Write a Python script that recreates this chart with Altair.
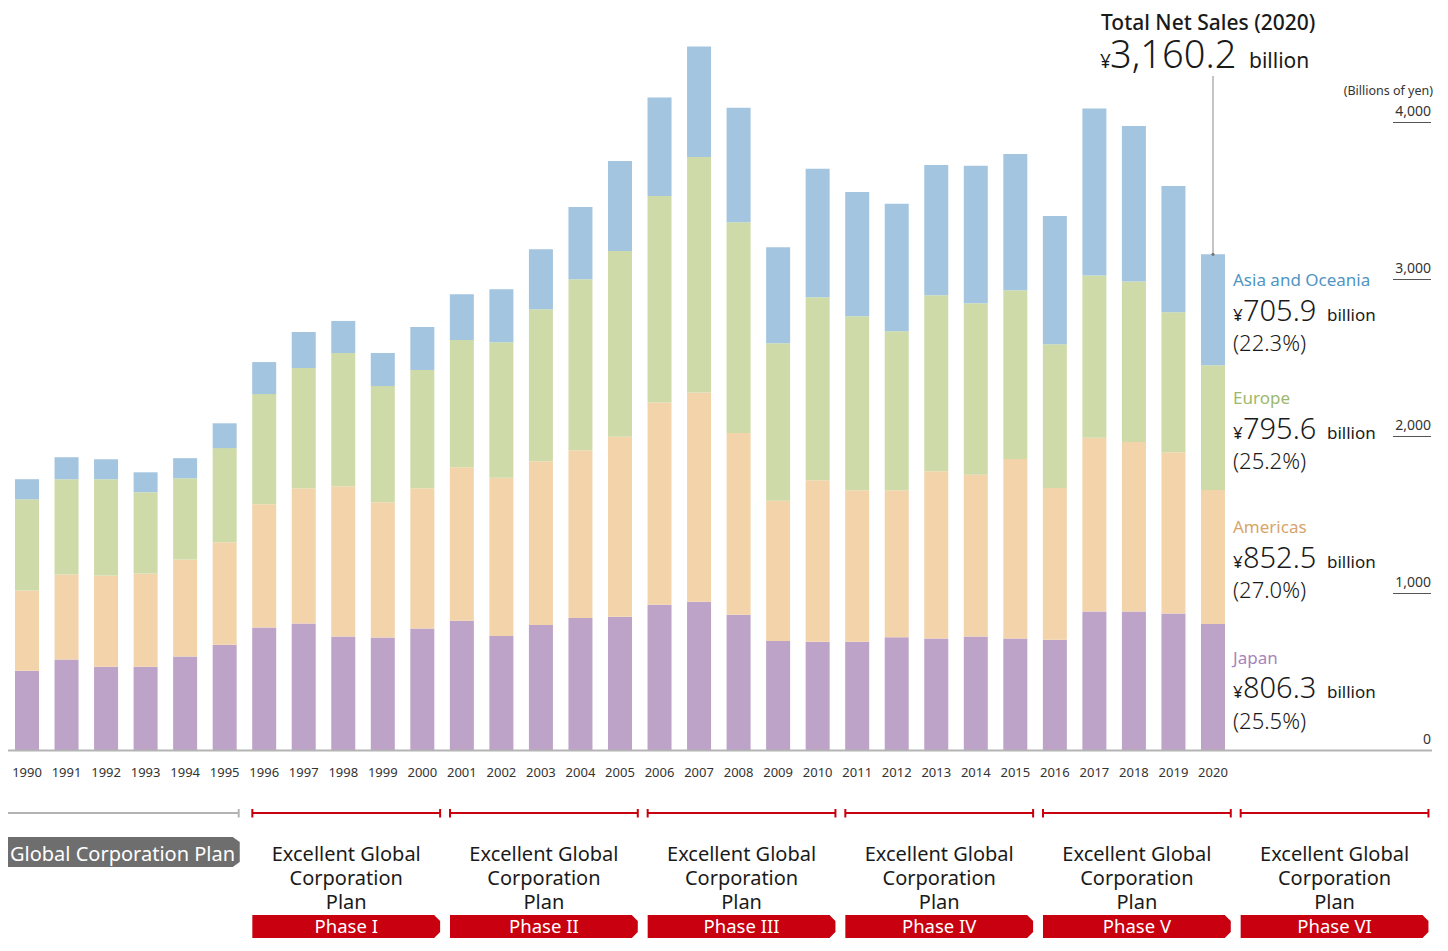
import altair as alt
import pandas as pd

FONT = "Noto Sans"

# ---------------- data ----------------
years = list(range(1990, 2021))
regions = ["Japan", "Americas", "Europe", "Asia and Oceania"]
japan = [508, 579, 534, 534, 598, 674, 783, 809, 726, 719, 777, 826, 730, 800, 844, 852,
         928, 947, 865, 698, 693, 693, 721, 714, 726, 714, 705, 886, 886, 872, 806.3]
americas = [511, 542, 581, 594, 619, 652, 785, 861, 957, 862, 893, 978, 1008, 1043, 1068, 1147,
            1289, 1333, 1157, 893, 1028, 964, 936, 1064, 1031, 1142, 967, 1106, 1079, 1028, 852.5]
europe = [581, 607, 613, 517, 517, 600, 702, 766, 849, 740, 753, 810, 862, 968, 1090, 1182,
          1315, 1501, 1343, 1003, 1166, 1109, 1013, 1122, 1092, 1076, 915, 1034, 1023, 891, 795.6]
asia = [128, 140, 127, 127, 128, 158, 204, 230, 204, 211, 275, 292, 338, 382, 460, 574,
        627, 703, 729, 612, 818, 792, 812, 829, 875, 868, 818, 1063, 990, 805, 705.9]
total_2020 = 3160.2

tick_values = [0, 1000, 2000, 3000, 4000]
tick_labels = ["0", "1,000", "2,000", "3,000", "4,000"]

plan_names = ["Global Corporation Plan", "Phase I", "Phase II", "Phase III",
              "Phase IV", "Phase V", "Phase VI"]
plan_start = [1988, 1996, 2001, 2006, 2011, 2016, 2021]
plan_end = [1995, 2000, 2005, 2010, 2015, 2020, 2025]
plan_label = "Excellent Global\nCorporation\nPlan"

# ---------------- style / layout ----------------
bar_colors = ["#BDA3C7", "#F3D4AA", "#CEDBA8", "#A3C5E0"]
label_colors = ["#A883BC", "#D7A56C", "#9DB86C", "#4F95C4"]
RED = "#C8000F"
GREY_TAG = "#6E6E6E"
GREY_LINE = "#B4B4B4"
TXT = "#1A1A1A"

W, H = 1432, 935
X_FIRST = 19.0      # plot x of the first bar centre
STEP = 39.533       # px per year
Y_ZERO = 742.5      # plot y of value 0
PX_UNIT = 0.157     # px per billion yen
xs = alt.Scale(domain=[1990 - X_FIRST / STEP, 1990 + (W - X_FIRST) / STEP], nice=False, zero=False)
ys = alt.Scale(domain=[-(H - Y_ZERO) / PX_UNIT, Y_ZERO / PX_UNIT], nice=False, zero=False)
HALF_BAR = 12 / STEP

# ---------------- tables ----------------
rows = []
for i, yr in enumerate(years):
    acc = 0.0
    for reg, series in zip(regions, [japan, americas, europe, asia]):
        v = series[i]
        rows.append({"year": yr, "region": reg, "y0": acc, "y1": acc + v})
        acc += v
bar_df = pd.DataFrame(rows)

year_df = pd.DataFrame({"year": years, "label": [str(y) for y in years]})
tick_df = pd.DataFrame({"v": tick_values, "label": tick_labels})

last = [japan[-1], americas[-1], europe[-1], asia[-1]]
ann_rows = []
acc = 0.0
for reg, v, lc in zip(regions, last, label_colors):
    ann_rows.append({"region": reg, "value": v, "mid": acc + v / 2, "lc": lc,
                     "pct": "({:.1f}%)".format(v / total_2020 * 100)})
    acc += v
ann_df = pd.DataFrame(ann_rows)

tot_df = pd.DataFrame({"year": [2020], "total": [total_2020],
                       "title": ["Total Net Sales (2020)"]})

plan_df = pd.DataFrame({"name": plan_names, "start": plan_start, "end": plan_end})
plan_df["grey"] = plan_df["name"].str.startswith("Global")
plan_df["ls"] = plan_df["start"] - 0.5 + 0.2
plan_df["le"] = plan_df["end"] + 0.5 - plan_df["grey"].map({True: 0.145, False: 0.05})
plan_df["col"] = plan_df["grey"].map({True: GREY_LINE, False: RED})
plan_df["mid"] = (plan_df["ls"] + plan_df["le"]) / 2
plan_df["label"] = plan_label
red_df = plan_df[~plan_df["grey"]].copy()
red_df["cap"] = red_df["le"] - 6 / STEP
grey_df = plan_df[plan_df["grey"]].copy()
grey_df["tag_r"] = grey_df["end"] + 0.5 - 0.12
grey_df["cap"] = grey_df["tag_r"] - 7 / STEP


def X(f):
    return alt.X(f, type="quantitative", scale=xs, axis=None)


def Y(f):
    return alt.Y(f, type="quantitative", scale=ys, axis=None)


# ---------------- layers ----------------
bars = alt.Chart(bar_df).transform_calculate(
    x0=f"datum.year - {HALF_BAR}", x1=f"datum.year + {HALF_BAR}"
).mark_rect().encode(
    x=X("x0"), x2="x1:Q", y=Y("y0"), y2="y1:Q",
    color=alt.Color("region:N", scale=alt.Scale(domain=regions, range=bar_colors), legend=None),
)

baseline = alt.Chart(pd.DataFrame({"v": [0]})).mark_rule(color=GREY_LINE, strokeWidth=2).encode(
    x=alt.value(0), x2=alt.value(1424), y=Y("v"))

year_text = alt.Chart(year_df).mark_text(fontSize=13, color="#333333", align="center",
                                         baseline="alphabetic").encode(
    x=X("year"), y=alt.value(769), text="label:N")

tick_rules = alt.Chart(tick_df[tick_df["v"] > 0]).mark_rule(color="#555555", strokeWidth=1).encode(
    x=alt.value(1385), x2=alt.value(1423), y=Y("v"))
tick_text = alt.Chart(tick_df).mark_text(fontSize=14, color="#333333", align="right",
                                         baseline="alphabetic", dy=-6.5).encode(
    x=alt.value(1423), y=Y("v"), text="label:N")
unit_text = alt.Chart(pd.DataFrame({"t": ["(Billions of yen)"]})).mark_text(
    fontSize=12.5, color="#333333", align="right", baseline="alphabetic").encode(
    x=alt.value(1425), y=alt.value(87), text="t:N")

# headline
title_text = alt.Chart(tot_df).mark_text(fontSize=21, fontWeight=500, color=TXT, align="left",
                                         baseline="alphabetic").encode(
    x=alt.value(1093), y=alt.value(22), text="title:N")
yen_big = alt.Chart(tot_df).mark_text(fontSize=19, color=TXT, align="left", baseline="alphabetic").encode(
    x=alt.value(1092), y=alt.value(60), text=alt.value("¥"))
total_num = alt.Chart(tot_df).mark_text(fontSize=38, fontWeight=300, color=TXT, align="left",
                                        baseline="alphabetic").encode(
    x=alt.value(1102), y=alt.value(60), text=alt.Text("total:Q", format=",.1f"))
total_bil = alt.Chart(tot_df).mark_text(fontSize=21, color=TXT, align="left", baseline="alphabetic").encode(
    x=alt.value(1241), y=alt.value(60), text=alt.value("billion"))
leader = alt.Chart(tot_df).mark_rule(color="#8A8A8A", strokeWidth=1).encode(
    x=X("year"), y=Y("total"), y2=alt.value(68))
leader_dot = alt.Chart(tot_df).mark_point(filled=True, size=10, color="#777777", opacity=1).encode(
    x=X("year"), y=Y("total"))

# region annotations
ann_name = alt.Chart(ann_df).mark_text(fontSize=17, align="left", baseline="alphabetic", dy=-23.5).encode(
    x=alt.value(1225), y=Y("mid"), text="region:N", color=alt.Color("lc:N", scale=None))
ann_yen = alt.Chart(ann_df).mark_text(fontSize=17, color=TXT, align="left", baseline="alphabetic", dy=11).encode(
    x=alt.value(1225), y=Y("mid"), text=alt.value("¥"))
ann_num = alt.Chart(ann_df).mark_text(fontSize=29, fontWeight=300, color=TXT, align="left",
                                      baseline="alphabetic", dy=11).encode(
    x=alt.value(1235), y=Y("mid"), text=alt.Text("value:Q", format=".1f"))
ann_bil = alt.Chart(ann_df).mark_text(fontSize=17, color=TXT, align="left", baseline="alphabetic", dy=11).encode(
    x=alt.value(1319), y=Y("mid"), text=alt.value("billion"))
ann_pct = alt.Chart(ann_df).mark_text(fontSize=22, fontWeight=300, color=TXT, align="left",
                                      baseline="alphabetic", dy=41.5).encode(
    x=alt.value(1225), y=Y("mid"), text="pct:N")

# plan bands
plan_lines = alt.Chart(plan_df).mark_rule(strokeWidth=2).encode(
    x=X("ls"), x2="le:Q", y=alt.value(805), color=alt.Color("col:N", scale=None))
plan_tick_r = alt.Chart(plan_df).mark_rule(strokeWidth=2).encode(
    x=X("le"), y=alt.value(801), y2=alt.value(809.5), color=alt.Color("col:N", scale=None))
plan_tick_l = alt.Chart(red_df).mark_rule(strokeWidth=2, color=RED).encode(
    x=X("ls"), y=alt.value(801), y2=alt.value(809.5))

CAP_RED = "M-0.5,-0.958 L0,-0.958 L0.5,-0.458 L0.5,0.458 L0,0.958 L-0.5,0.958 Z"
CAP_GREY = "M-0.5,-1 L0,-1 L0.47,-0.67 L0.47,0.67 L0,1 L-0.5,1 Z"

red_body = alt.Chart(red_df).mark_rect(color=RED).encode(
    x=X("ls"), x2="cap:Q", y=alt.value(907), y2=alt.value(930))
red_cap = alt.Chart(red_df).mark_point(shape=CAP_RED, filled=True, size=576, color=RED,
                                        opacity=1, strokeWidth=0).encode(
    x=X("cap"), y=alt.value(918.5))
red_text = alt.Chart(red_df).mark_text(fontSize=18.5, color="white", align="center",
                                       baseline="alphabetic").encode(
    x=X("mid"), y=alt.value(924.5), text="name:N")
plan_text = alt.Chart(red_df).mark_text(fontSize=20, color=TXT, align="center", baseline="alphabetic",
                                        lineBreak="\n", lineHeight=24).encode(
    x=X("mid"), y=alt.value(853), text="label:N")

grey_body = alt.Chart(grey_df).mark_rect(color=GREY_TAG).encode(
    x=X("ls"), x2="cap:Q", y=alt.value(829), y2=alt.value(859))
grey_cap = alt.Chart(grey_df).mark_point(shape=CAP_GREY, filled=True, size=900, color=GREY_TAG,
                                         opacity=1, strokeWidth=0).encode(
    x=X("cap"), y=alt.value(844))
grey_text = alt.Chart(grey_df).mark_text(fontSize=20, color="white", align="left",
                                         baseline="alphabetic").encode(
    x=alt.value(2), y=alt.value(853), text="name:N")

chart = alt.layer(
    bars, baseline, year_text, tick_rules, tick_text, unit_text,
    leader, leader_dot, title_text, yen_big, total_num, total_bil,
    ann_name, ann_yen, ann_num, ann_bil, ann_pct,
    plan_lines, plan_tick_r, plan_tick_l,
    red_body, red_cap, red_text, plan_text,
    grey_body, grey_cap, grey_text,
).properties(
    width=W, height=H, padding=0, autosize=alt.AutoSizeParams(type="none")
).configure_view(stroke=None).configure_text(font=FONT)

chart.save("out.html", embed_options={"renderer": "svg", "actions": False})
